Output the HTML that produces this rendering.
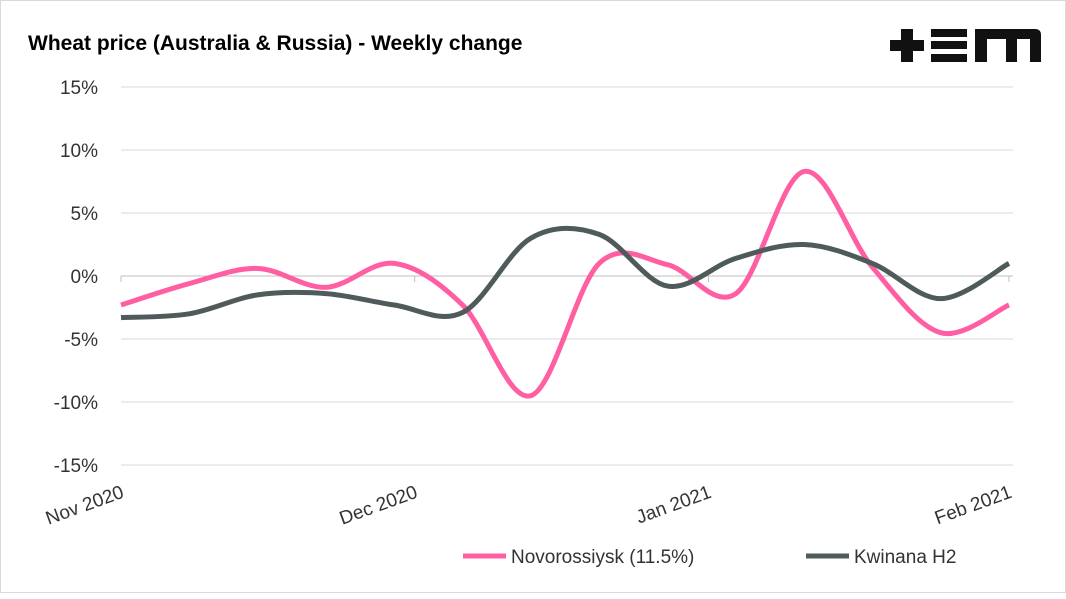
<!DOCTYPE html>
<html><head><meta charset="utf-8"><style>
body{margin:0;background:#fff;font-family:"Liberation Sans",sans-serif}
#c{position:relative;width:1066px;height:593px;border:1px solid #d9d9d9;box-sizing:border-box;background:#fff}
</style></head><body>
<div id="c">
<svg id="s" width="1066" height="593">
<text x="27" y="49" font-size="21" font-weight="bold" fill="#000" font-family="Liberation Sans, sans-serif">Wheat price (Australia &amp; Russia)  - Weekly change</text>
<g fill="#111">
<rect x="889" y="39" width="34" height="11"/><rect x="900" y="28" width="12" height="33"/>
<rect x="930" y="28" width="36" height="8"/><rect x="930" y="40" width="36" height="8"/><rect x="930" y="53" width="36" height="8"/>
<path d="M974 61V28h60q6 0 6 6v27h-11V38h-13v23h-11V38h-19v23z"/>
</g>
<g id="grid"></g><g id="lines"></g>
<g>
<line x1="462" y1="555" x2="505" y2="555" stroke="#ff5fa2" stroke-width="5"/>
<text x="510" y="562" font-size="19" fill="#333">Novorossiysk (11.5%)</text>
<line x1="805" y1="555" x2="848" y2="555" stroke="#4f5b5b" stroke-width="5"/>
<text x="853" y="562" font-size="19" fill="#333">Kwinana H2</text>
</g>
</svg></div>
<script>
const yTicks=[15,10,5,0,-5,-10,-15];
const xLabels=["Nov 2020","Dec 2020","Jan 2021","Feb 2021"];
const xLabelWeeks=[0,4.3,8.6,13];
const novorossiysk=[-2.3,-0.6,0.6,-0.9,1.0,-2.3,-9.5,1.0,0.9,-1.4,8.3,0.7,-4.5,-2.3];
const kwinana=[-3.3,-3.0,-1.5,-1.4,-2.3,-2.9,3.0,3.3,-0.8,1.4,2.5,1.0,-1.8,1.0];
const X0=120,X1=1008,Y0=86,Y1=464;
const x=w=>X0+w*(X1-X0)/13;
const y=v=>Y0+(15-v)*(Y1-Y0)/30;
const NS="http://www.w3.org/2000/svg";
const g=document.getElementById('grid'),L=document.getElementById('lines');
function mk(t,a,p){const e=document.createElementNS(NS,t);for(const k in a)e.setAttribute(k,a[k]);p.appendChild(e);return e;}
yTicks.forEach(v=>{
 const ln=mk('line',{x1:X0,x2:1012,y1:y(v),y2:y(v),stroke:v===0?'#bfbfbf':'#d9d9d9','stroke-width':1},g);
 
 
 const t=mk('text',{x:97,y:y(v)+7,'font-size':19,'text-anchor':'end',fill:'#333'},g);
 t.textContent=v+'%';
 
 
});
xLabels.forEach((s,i)=>{
 const xx=x(xLabelWeeks[i]);
 const tk=mk('line',{x1:xx,x2:xx,y1:y(0),y2:y(0)+6,stroke:'#bfbfbf'},g);
 
 
 const t=mk('text',{x:xx+4,y:496,'font-size':19,'text-anchor':'end',fill:'#333',transform:`rotate(-20 ${xx+4} 496)`},g);
 t.textContent=s;
 
 
});
function path(vals){
 const p=vals.map((v,i)=>[x(i),y(v)]);
 let d=`M${p[0][0]},${p[0][1]}`;
 for(let i=0;i<p.length-1;i++){
  const a=p[i-1]||p[i],b=p[i],c=p[i+1],e=p[i+2]||c;
  d+=`C${b[0]+(c[0]-a[0])/6},${b[1]+(c[1]-a[1])/6} ${c[0]-(e[0]-b[0])/6},${c[1]-(e[1]-b[1])/6} ${c[0]},${c[1]}`;
 }
 return d;
}
const p1=mk('path',{d:path(novorossiysk),fill:'none',stroke:'#ff5fa2','stroke-width':5},L);


const p2=mk('path',{d:path(kwinana),fill:'none',stroke:'#4f5b5b','stroke-width':5},L);


</script>
</body></html>
